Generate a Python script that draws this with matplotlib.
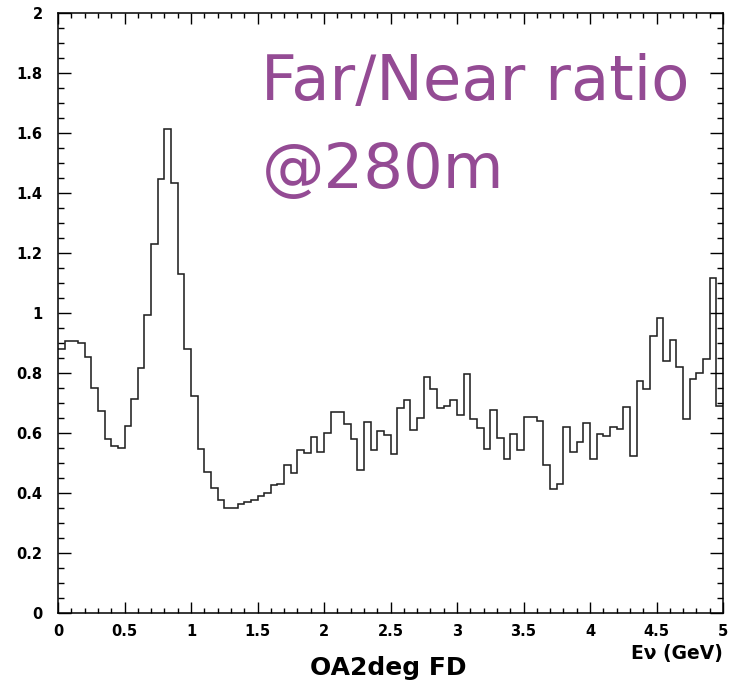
import numpy as np
import matplotlib.pyplot as plt
from matplotlib.ticker import FixedLocator, MultipleLocator

# Far/Near ratio per 0.05 GeV bin, 0 - 5 GeV
E_MIN, E_MAX, N_BINS = 0.0, 5.0, 100
ratio = [
    0.880, 0.908, 0.908, 0.899, 0.854, 0.751, 0.674, 0.580, 0.558, 0.551,
    0.624, 0.714, 0.818, 0.994, 1.229, 1.446, 1.612, 1.432, 1.130, 0.881,
    0.723, 0.548, 0.470, 0.416, 0.377, 0.349, 0.350, 0.362, 0.371, 0.377,
    0.390, 0.399, 0.426, 0.430, 0.493, 0.466, 0.543, 0.534, 0.588, 0.538,
    0.599, 0.670, 0.670, 0.629, 0.579, 0.477, 0.638, 0.543, 0.607, 0.593,
    0.529, 0.682, 0.710, 0.610, 0.651, 0.788, 0.747, 0.682, 0.691, 0.710,
    0.660, 0.796, 0.647, 0.616, 0.547, 0.677, 0.584, 0.512, 0.597, 0.543,
    0.654, 0.654, 0.641, 0.493, 0.412, 0.430, 0.619, 0.538, 0.571, 0.633,
    0.512, 0.597, 0.591, 0.619, 0.613, 0.688, 0.524, 0.772, 0.747, 0.922,
    0.984, 0.841, 0.909, 0.819, 0.647, 0.779, 0.801, 0.847, 1.116, 0.690,
]

x_ticks = [0, 0.5, 1, 1.5, 2, 2.5, 3, 3.5, 4, 4.5, 5]
x_tick_labels = ["0", "0.5", "1", "1.5", "2", "2.5", "3", "3.5", "4", "4.5", "5"]
y_ticks = [0, 0.2, 0.4, 0.6, 0.8, 1.0, 1.2, 1.4, 1.6, 1.8, 2.0]
y_tick_labels = ["0", "0.2", "0.4", "0.6", "0.8", "1", "1.2", "1.4", "1.6", "1.8", "2"]

PURPLE = "#944B94"

edges = np.linspace(E_MIN, E_MAX, N_BINS + 1)

fig = plt.figure(figsize=(7.29, 6.86), dpi=100)
ax = fig.add_axes([58 / 729, 73 / 686, 665 / 729, 600 / 686])

ax.stairs(ratio, edges, baseline=None, color="#222222", lw=1.15)

ax.set_xlim(E_MIN, E_MAX)
ax.set_ylim(0, 2)

ax.xaxis.set_major_locator(FixedLocator(x_ticks))
ax.set_xticklabels(x_tick_labels)
ax.xaxis.set_minor_locator(MultipleLocator(0.1))
ax.yaxis.set_major_locator(FixedLocator(y_ticks))
ax.set_yticklabels(y_tick_labels)
ax.yaxis.set_minor_locator(MultipleLocator(0.05))

ax.tick_params(axis="x", which="major", direction="in", length=7.7, width=1.0,
               top=True, pad=8)
ax.tick_params(axis="x", which="minor", direction="in", length=3.6, width=1.0,
               top=True)
ax.tick_params(axis="y", which="major", direction="in", length=9.4, width=1.0,
               right=True, pad=11)
ax.tick_params(axis="y", which="minor", direction="in", length=4.2, width=1.0,
               right=True)
for lbl in ax.get_xticklabels() + ax.get_yticklabels():
    lbl.set_fontweight("bold")
    lbl.set_fontsize(10.5)
for sp in ax.spines.values():
    sp.set_linewidth(1.1)

# axis title and histogram name (ROOT style)
fig.text(723 / 729, 1 - 653 / 686, "E\u03bd (GeV)", ha="right", va="center",
         fontsize=13.5, fontweight="bold")
fig.text(388 / 729, 1 - 668 / 686, "OA2deg FD", ha="center", va="center",
         fontsize=18, fontweight="bold")

ax.text(1.53, 1.71, "Far/Near ratio", fontsize=45, color=PURPLE, va="baseline")
ax.text(1.53, 1.417, "@280m", fontsize=45, color=PURPLE, va="baseline")

fig.savefig("out.png", dpi=100)
